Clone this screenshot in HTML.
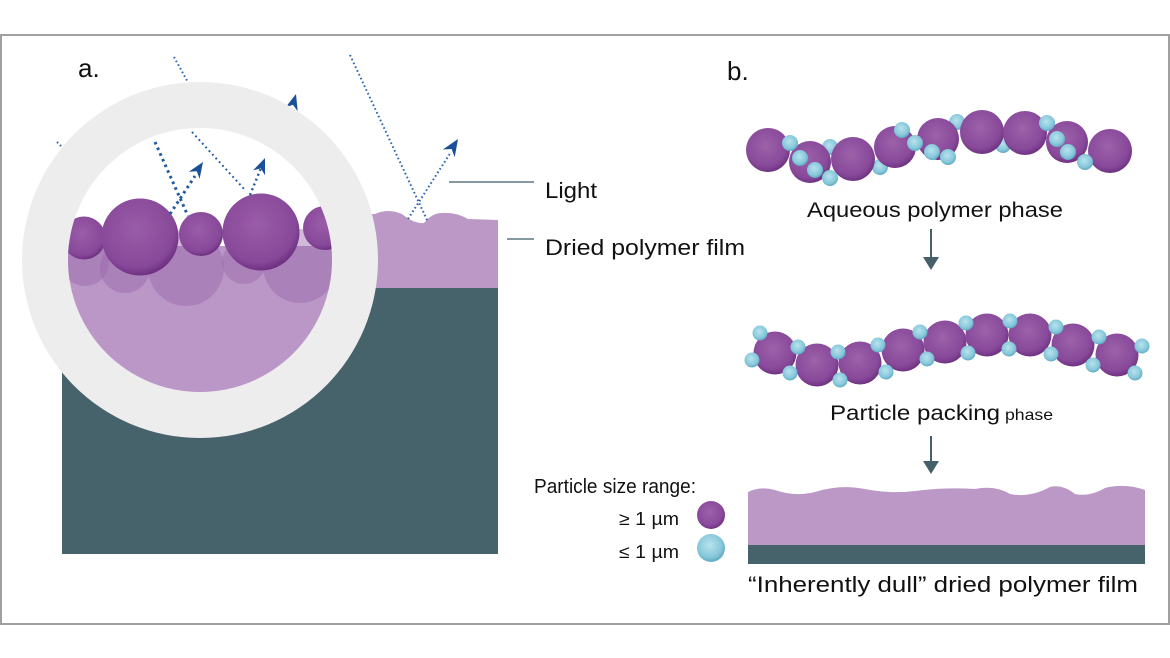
<!DOCTYPE html>
<html>
<head>
<meta charset="utf-8">
<style>
  html,body{margin:0;padding:0;background:#fff;}
  svg{display:block;}
  text{font-family:"Liberation Sans", Arial, sans-serif; fill:#111;}
</style>
</head>
<body>
<svg width="1170" height="658" viewBox="0 0 1170 658" xmlns="http://www.w3.org/2000/svg">
  <defs>
    <radialGradient id="gp" cx="45%" cy="40%" r="62%">
      <stop offset="0" stop-color="#9c62a9"/>
      <stop offset="0.75" stop-color="#88499a"/>
      <stop offset="1" stop-color="#6c2f7e"/>
    </radialGradient>
    <radialGradient id="gb" cx="45%" cy="40%" r="62%">
      <stop offset="0" stop-color="#b8e3ee"/>
      <stop offset="0.7" stop-color="#86c7da"/>
      <stop offset="1" stop-color="#5aa7c1"/>
    </radialGradient>
    <radialGradient id="gpa" cx="45%" cy="40%" r="62%">
      <stop offset="0" stop-color="#9a5da8"/>
      <stop offset="0.8" stop-color="#874899"/>
      <stop offset="1" stop-color="#6a2c7c"/>
    </radialGradient>
    <clipPath id="inner"><circle cx="200" cy="260" r="132"/></clipPath>
  </defs>

  <rect x="0" y="0" width="1170" height="658" fill="#fff"/>
  <!-- frame -->
  <rect x="1" y="35" width="1168" height="589" fill="none" stroke="#a0a0a0" stroke-width="2"/>

  <!-- ===== Panel a ===== -->
  <!-- film -->
  <path d="M250 216 L375 214 Q388 208 402 214 Q414 224 424 223 Q432 213 442 213 Q456 212 468 219 L498 220 L498 289 L250 289 Z" fill="#bb98c6"/>
  <!-- substrate -->
  <rect x="62" y="288" width="436" height="266" fill="#46626b"/>

  <!-- outer rays (behind ring) -->
  <g stroke="#2a66ad" stroke-width="2" stroke-dasharray="1.6 2.6" fill="none">
    <line x1="350" y1="55" x2="428" y2="222"/>
    <line x1="408" y1="219" x2="451" y2="152"/>
    <line x1="174" y1="57" x2="200" y2="104"/>
    <line x1="57" y1="142" x2="75" y2="160"/>
  </g>
  <polygon points="458,139 454.7,157.1 451.6,149 442.9,149.5" fill="#1b4f96"/>
  <polygon points="296,94 297.7,111.2 292.9,104.8 285.3,107.6" fill="#1b4f96"/>

  <!-- ring -->
  <circle cx="200" cy="260" r="178" fill="#ededed"/>

  <!-- inner magnified view -->
  <g clip-path="url(#inner)">
    <rect x="60" y="120" width="290" height="290" fill="#fff"/>
    <rect x="60" y="246" width="290" height="170" fill="#bb97c7"/>
    <g fill="#9a66aa" fill-opacity="0.45">
      <circle cx="85" cy="262" r="24"/>
      <circle cx="125" cy="268" r="25"/>
      <circle cx="186" cy="268" r="38"/>
      <circle cx="244" cy="262" r="22"/>
      <circle cx="300" cy="266" r="37"/>
    </g>
    <circle cx="84" cy="238" r="21.5" fill="url(#gpa)"/>
    <circle cx="325" cy="228" r="22" fill="url(#gpa)"/>
    <circle cx="201" cy="234" r="22" fill="url(#gpa)"/>
    <circle cx="140" cy="237" r="38.5" fill="url(#gpa)"/>
    <circle cx="261" cy="232" r="38.5" fill="url(#gpa)"/>

    <g stroke="#1f5aa3" fill="none">
      <line x1="155" y1="142" x2="188" y2="216" stroke-width="3" stroke-dasharray="2.6 3.6"/>
      <line x1="170" y1="214" x2="195" y2="176" stroke-width="3" stroke-dasharray="2.6 3.6"/>
      <line x1="192" y1="132" x2="245" y2="190" stroke-width="2" stroke-dasharray="1.8 3.2"/>
      <line x1="250" y1="195" x2="261" y2="168" stroke-width="2.4" stroke-dasharray="2 3.2"/>
    </g>
    <polygon points="203,162 199.6,178.9 196.8,171.3 188.8,171.7" fill="#1b4f96"/>
    <polygon points="265,158 265,175.2 260.8,168.4 253,170.4" fill="#1b4f96"/>
  </g>

  <!-- leader lines -->
  <line x1="449" y1="182" x2="534" y2="182" stroke="#5e7681" stroke-width="1.6"/>
  <line x1="507" y1="239" x2="534" y2="239" stroke="#5e7681" stroke-width="1.6"/>

  <text x="78" y="77" font-size="26">a.</text>
  <text x="545" y="198" font-size="22" textLength="52" lengthAdjust="spacingAndGlyphs">Light</text>
  <text x="545" y="255" font-size="22" textLength="200" lengthAdjust="spacingAndGlyphs">Dried polymer film</text>

  <!-- ===== Panel b ===== -->
  <text x="727" y="80" font-size="26">b.</text>

  <!-- top chain: behind blues -->
  <g fill="url(#gb)">
    <circle cx="830" cy="147" r="8"/>
    <circle cx="880" cy="167" r="8"/>
    <circle cx="957" cy="122" r="8"/>
    <circle cx="1003" cy="145" r="8"/>
  </g>
  <g fill="url(#gp)">
    <circle cx="768" cy="150" r="22"/>
    <circle cx="853" cy="159" r="22"/>
    <circle cx="810" cy="162" r="21"/>
    <circle cx="895" cy="147" r="21"/>
    <circle cx="938" cy="139" r="21"/>
    <circle cx="982" cy="132" r="22"/>
    <circle cx="1025" cy="133" r="22"/>
    <circle cx="1110" cy="151" r="22"/>
    <circle cx="1067" cy="142" r="21"/>
  </g>
  <g fill="url(#gb)">
    <circle cx="790" cy="143" r="8"/>
    <circle cx="800" cy="158" r="8"/>
    <circle cx="815" cy="170" r="8"/>
    <circle cx="830" cy="178" r="8"/>
    <circle cx="902" cy="130" r="8"/>
    <circle cx="915" cy="143" r="8"/>
    <circle cx="932" cy="152" r="8"/>
    <circle cx="948" cy="157" r="8"/>
    <circle cx="1047" cy="123" r="8"/>
    <circle cx="1057" cy="139" r="8"/>
    <circle cx="1068" cy="152" r="8"/>
    <circle cx="1085" cy="162" r="8"/>
  </g>
  <text x="807" y="217" font-size="21" textLength="256" lengthAdjust="spacingAndGlyphs">Aqueous polymer phase</text>

  <!-- arrow 1 -->
  <line x1="931" y1="229" x2="931" y2="259" stroke="#45606a" stroke-width="2"/>
  <polygon points="923,257 939,257 931,270" fill="#45606a"/>

  <!-- middle chain -->
  <g fill="url(#gp)">
    <circle cx="775" cy="353" r="21.5"/>
    <circle cx="860" cy="363" r="21.5"/>
    <circle cx="817" cy="365" r="21.5"/>
    <circle cx="903" cy="350" r="21.5"/>
    <circle cx="945" cy="342" r="21.5"/>
    <circle cx="987" cy="335" r="21.5"/>
    <circle cx="1030" cy="335" r="21.5"/>
    <circle cx="1073" cy="345" r="21.5"/>
    <circle cx="1117" cy="355" r="21.5"/>
  </g>
  <g fill="url(#gb)">
    <circle cx="760" cy="333" r="7.5"/>
    <circle cx="752" cy="360" r="7.5"/>
    <circle cx="798" cy="347" r="7.5"/>
    <circle cx="790" cy="373" r="7.5"/>
    <circle cx="838" cy="352" r="7.5"/>
    <circle cx="840" cy="380" r="7.5"/>
    <circle cx="878" cy="345" r="7.5"/>
    <circle cx="886" cy="372" r="7.5"/>
    <circle cx="920" cy="332" r="7.5"/>
    <circle cx="927" cy="359" r="7.5"/>
    <circle cx="966" cy="323" r="7.5"/>
    <circle cx="968" cy="353" r="7.5"/>
    <circle cx="1010" cy="321" r="7.5"/>
    <circle cx="1009" cy="349" r="7.5"/>
    <circle cx="1056" cy="327" r="7.5"/>
    <circle cx="1051" cy="354" r="7.5"/>
    <circle cx="1099" cy="337" r="7.5"/>
    <circle cx="1093" cy="365" r="7.5"/>
    <circle cx="1142" cy="346" r="7.5"/>
    <circle cx="1135" cy="373" r="7.5"/>
  </g>
  <text x="830" y="420" font-size="21" textLength="170" lengthAdjust="spacingAndGlyphs">Particle packing</text>
  <text x="1005" y="420" font-size="16" textLength="48" lengthAdjust="spacingAndGlyphs">phase</text>

  <!-- arrow 2 -->
  <line x1="931" y1="436" x2="931" y2="463" stroke="#45606a" stroke-width="2"/>
  <polygon points="923,461 939,461 931,474" fill="#45606a"/>

  <!-- legend -->
  <text x="534" y="493" font-size="20" textLength="162" lengthAdjust="spacingAndGlyphs">Particle size range:</text>
  <text x="619" y="525" font-size="18" textLength="60" lengthAdjust="spacingAndGlyphs">≥ 1 µm</text>
  <text x="619" y="558" font-size="18" textLength="60" lengthAdjust="spacingAndGlyphs">≤ 1 µm</text>
  <circle cx="711" cy="515" r="14" fill="url(#gp)"/>
  <circle cx="711" cy="548" r="14" fill="url(#gb)"/>

  <!-- dried film b -->
  <path d="M748 492 Q760 486 775 490 Q795 497 815 492 Q840 484 865 489 Q890 494 915 491 Q945 487 975 489 Q995 485 1010 494 Q1030 498 1050 487 Q1062 484 1075 494 Q1090 497 1105 488 Q1125 483 1145 490 L1145 546 L748 546 Z" fill="#bb98c6"/>
  <rect x="748" y="545" width="397" height="19" fill="#46626b"/>
  <text x="748" y="592" font-size="22" textLength="390" lengthAdjust="spacingAndGlyphs">“Inherently dull” dried polymer film</text>
</svg>
</body>
</html>
